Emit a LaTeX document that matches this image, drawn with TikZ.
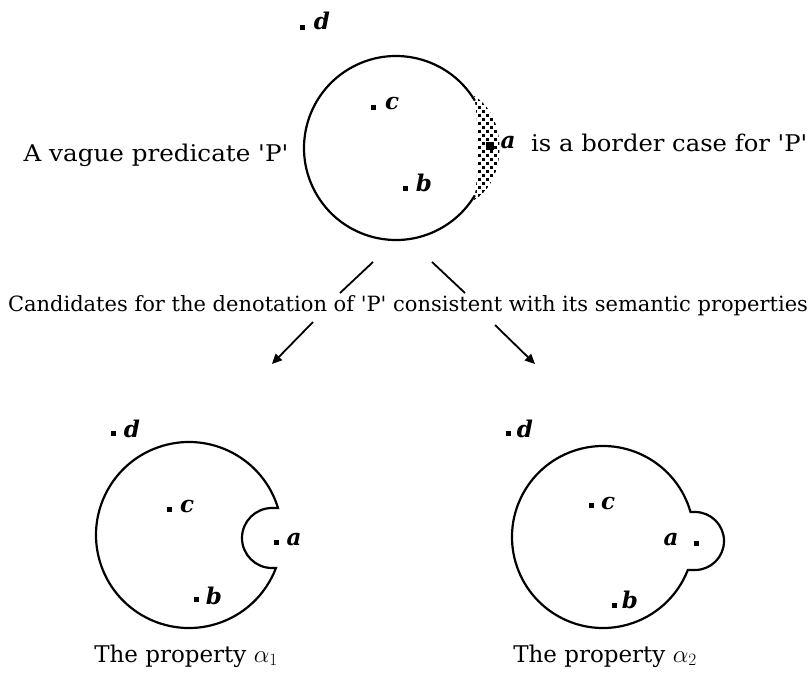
\documentclass[tikz,border=0pt]{standalone}
\usepackage{fontspec}
\usepackage{graphicx}
\setmainfont{DejaVu Serif}
\usetikzlibrary{arrows.meta}
\tikzset{
  dotpt/.style={fill=black, draw=none, rectangle, minimum size=5pt, inner sep=0pt},
  bigpt/.style={fill=black, draw=none, rectangle, minimum size=8pt, inner sep=0pt},
  lbl/.style={font=\fontsize{23}{23}\selectfont\bfseries\itshape, inner sep=0pt},
  txt/.style={font=\fontsize{23}{23}\selectfont, inner sep=0pt},
  midtxt/.style={font=\fontsize{21}{21}\selectfont, inner sep=0pt},
  outline/.style={line width=2.2pt},
  conn/.style={line width=1.8pt},
  arr/.style={conn, -{Triangle[length=10pt,width=9pt]}},
}
\begin{document}
\begin{tikzpicture}[x=1pt,y=-1pt]
\useasboundingbox[fill=white] (0,0) rectangle (811,683);

% ---------- top circle ----------
\coordinate (C0) at (396,148);
\draw[outline] (C0) ++(31:92pt) arc[start angle=31, end angle=329, radius=92pt];
% stippled border zone
\begin{scope}
  \clip (474,96) .. controls (479,120) and (479,176) .. (474,200)
        .. controls (508,180) and (508,116) .. (474,96) -- cycle;
  \foreach \yy in {94,102,...,206} {
    \foreach \xx in {466,474,...,508} {
      \fill (\xx,\yy) rectangle ++(2.6,2.6);
      \fill (\xx+4,\yy+4) rectangle ++(2.6,2.6);
    }
  }
\end{scope}
\node[dotpt] (d0) at (302,27) {};
\node[lbl] (ld0) at (322,21) {d};
\node[dotpt] (c0) at (373,107) {};
\node[lbl] (lc0) at (392,104) {c};
\node[dotpt] (b0) at (405,188) {};
\node[lbl] (lb0) at (424,183) {b};
\node[bigpt] (a0) at (490,146) {};
\node[lbl] (la0) at (508,143) {a};
\node[txt] (vague) at (156,155) {\scalebox{1.07}[1]{A vague predicate \textquotesingle P\textquotesingle}};
\node[txt, anchor=west] (border) at (531,143) {\scalebox{1.055}[1]{is a border case for \textquotesingle P\textquotesingle}};

% ---------- connectors ----------
\coordinate (t1s) at (373,262);
\coordinate (t1e) at (340,293);
\coordinate (t2s) at (432,262);
\coordinate (t2e) at (465,293);
\draw[conn] (t1s) -- (t1e);
\draw[conn] (t2s) -- (t2e);
\node[midtxt] (cand) at (408,306) {Candidates for the denotation of \textquotesingle P\textquotesingle{} consistent with its semantic properties};
\coordinate (a1s) at (313,322);
\coordinate (a1e) at (272,364);
\coordinate (a2s) at (495,325);
\coordinate (a2e) at (535,364);
\draw[arr] (a1s) -- (a1e);
\draw[arr] (a2s) -- (a2e);

% ---------- bottom left: property alpha1 ----------
\coordinate (C1) at (189,535);
\draw[outline] (C1) ++(16.9:93pt) arc[start angle=16.9, end angle=339.2, radius=93pt]
   -- (272,568) arc[start angle=270, end angle=90, radius=30pt] -- cycle;
\node[dotpt] (d1) at (113,433) {};
\node[lbl] (ld1) at (132,429) {d};
\node[dotpt] (c1) at (169,509) {};
\node[lbl] (lc1) at (187,507) {c};
\node[dotpt] (b1) at (196,599) {};
\node[lbl] (lb1) at (214,596) {b};
\node[dotpt] (a1) at (276,542) {};
\node[lbl] (la1) at (294,540) {a};
\node[txt] (p1) at (186,656) {The property $\alpha_1$};

% ---------- bottom right: property alpha2 ----------
\coordinate (C2) at (603,537);
\draw[outline] (C2) ++(16:91pt) arc[start angle=16, end angle=338.7, radius=91pt]
   -- (695,570) arc[start angle=-90, end angle=90, radius=29pt] -- cycle;
\node[dotpt] (d2) at (508,433) {};
\node[lbl] (ld2) at (525,429) {d};
\node[dotpt] (c2) at (591,505) {};
\node[lbl] (lc2) at (608,504) {c};
\node[dotpt] (b2) at (614,605) {};
\node[lbl] (lb2) at (630,600) {b};
\node[dotpt] (a2) at (696,543) {};
\node[lbl] (la2) at (671,540) {a};
\node[txt] (p2) at (605,656) {The property $\alpha_2$};
\end{tikzpicture}
\end{document}
